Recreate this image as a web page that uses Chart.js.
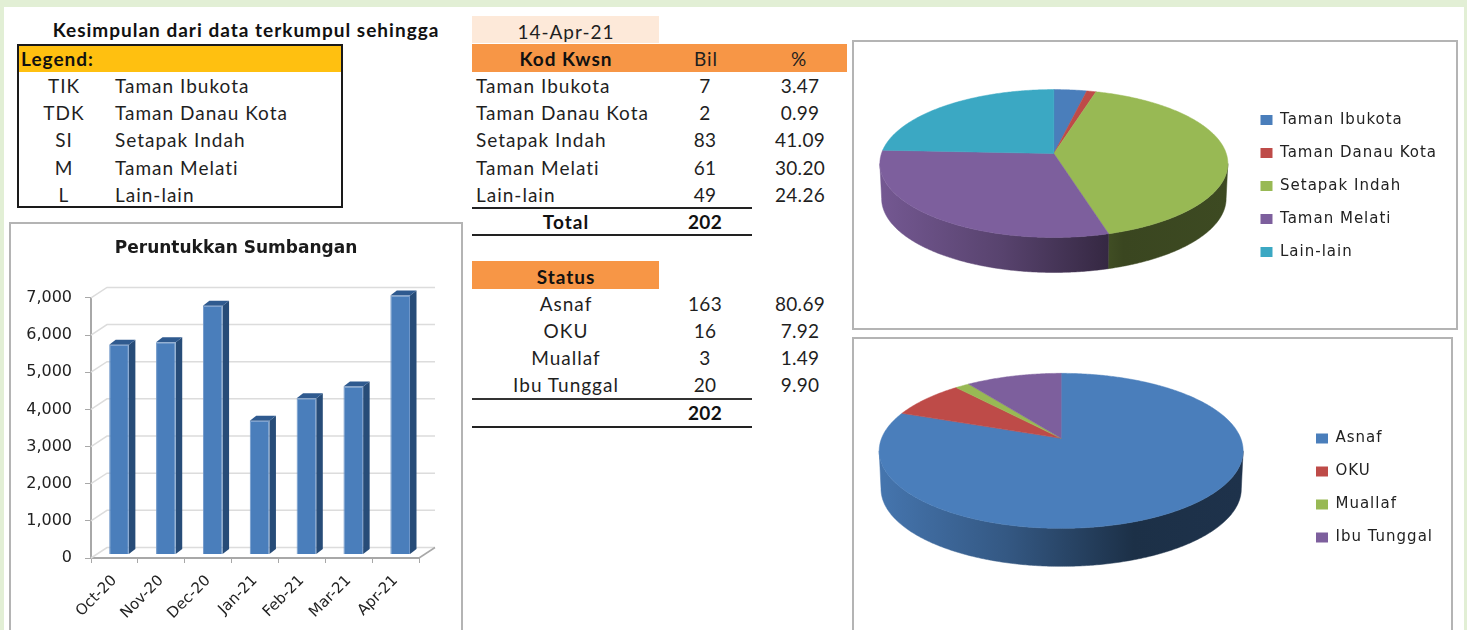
<!DOCTYPE html>
<html>
<head>
<meta charset="utf-8">
<title>Kesimpulan</title>
<script src="https://cdn.jsdelivr.net/npm/chart.js@4"></script>
<style>
html,body{margin:0;padding:0;width:1467px;height:630px;overflow:hidden;background:#e2efd5;}
#panel{position:absolute;left:4px;top:7px;width:1460px;height:623px;background:#fff;}
#stage{position:absolute;left:0;top:0;width:1467px;height:630px;overflow:hidden;}
.t{position:absolute;font-family:Lato,sans-serif;font-size:19px;line-height:24px;color:#1f1f1f;white-space:nowrap;letter-spacing:1px;}
.n{letter-spacing:.3px;}
.b{font-weight:700;color:#111;}
.rect{position:absolute;}
.frame{position:absolute;box-sizing:border-box;border:2px solid #b4b4b4;background:#fff;}
.frame canvas{position:absolute;left:0;top:0;}
</style>
</head>
<body>
<div id="panel"></div>
<div id="stage">
  <div class="frame" style="left:9px;top:222px;width:454px;height:420px"><canvas id="bars"></canvas></div>
  <div class="frame" style="left:852px;top:40px;width:606px;height:290px"><canvas id="pieArea"></canvas></div>
  <div class="frame" style="left:852px;top:337px;width:601px;height:298px"><canvas id="pieStatus"></canvas></div>
</div>
<script>
const months = ['Oct-20','Nov-20','Dec-20','Jan-21','Feb-21','Mar-21','Apr-21'];
const sumbangan = [5645,5715,6700,3600,4210,4525,6970];
const yTicks = [0,1000,2000,3000,4000,5000,6000,7000];
const legendCodes = ['TIK','TDK','SI','M','L'];
const kawasan = ['Taman Ibukota','Taman Danau Kota','Setapak Indah','Taman Melati','Lain-lain'];
const kawasanBil = [7,2,83,61,49];
const kawasanPct = ['3.47','0.99','41.09','30.20','24.26'];
const statusNames = ['Asnaf','OKU','Muallaf','Ibu Tunggal'];
const statusBil = [163,16,3,20];
const statusPct = ['80.69','7.92','1.49','9.90'];
const totalBil = 202;
const areaColors = ['#4a7ebb','#be4b48','#98b954','#7d5f9d','#3ba8c3'];
const statusColors = ['#4a7ebb','#be4b48','#98b954','#7d5f9d'];
const LABEL_FONT = 'DejaVu Sans';

const stage = document.getElementById('stage');
function text(s,x,y,align,bold,num){
  const e=document.createElement('div');
  e.className='t'+(bold?' b':'')+(num?' n':'');
  e.textContent=s;
  e.style.top=(y-12)+'px';
  e.style.left=x+'px';
  if(align==='c')e.style.transform='translateX(-50%)';
  stage.appendChild(e);
}
function rect(x,y,w,h,c,extra){
  const e=document.createElement('div');
  e.className='rect';
  e.style.cssText+=`left:${x}px;top:${y}px;width:${w}px;height:${h}px;background:${c};${extra||''}`;
  stage.appendChild(e);
}
const rowYs=[86,113,140,168,195];
rect(17,44,326,164,'#fff','box-sizing:border-box;border:2px solid #1a1a1a');
rect(19,46,322,26,'#ffc010');
text('Kesimpulan dari data terkumpul sehingga',246,30,'c',true);
text('Legend:',21,59,'l',true);
legendCodes.forEach((c,i)=>{text(c,64,rowYs[i],'c');text(kawasan[i],115,rowYs[i],'l');});

rect(472,16,187,27,'#fde9d9');
text('14-Apr-21',566,32,'c');
rect(472,44,375,28,'#f79646');
text('Kod Kwsn',566,59,'c',true);
text('Bil',706,59,'c');
text('%',799,59,'c');
kawasan.forEach((k,i)=>{
  text(k,476,rowYs[i],'l');
  text(String(kawasanBil[i]),705,rowYs[i],'c',false,true);
  text(kawasanPct[i],800,rowYs[i],'c',false,true);
});
rect(472,207,280,2,'#222');
text('Total',566,222,'c',true);
text(String(totalBil),705,222,'c',true,true);
rect(472,234,280,2,'#222');
rect(472,261,187,28,'#f79646');
text('Status',566,277,'c',true);
const statusYs=[304,331,358,385];
statusNames.forEach((k,i)=>{
  text(k,566,statusYs[i],'c');
  text(String(statusBil[i]),705,statusYs[i],'c',false,true);
  text(statusPct[i],800,statusYs[i],'c',false,true);
});
rect(472,398,280,2,'#333');
text(String(totalBil),705,413,'c',true,true);
rect(472,426,280,2,'#222');

/* ---- 3D helpers ---- */
function shade(hex,k){
  const n=parseInt(hex.slice(1),16);
  return `rgb(${Math.round((n>>16&255)*k)},${Math.round((n>>8&255)*k)},${Math.round((n&255)*k)})`;
}
const pie3d={
  id:'pie3d',
  beforeLayout(chart,args,o){chart.ctx.letterSpacing=o.spacing;},
  beforeDraw(chart,args,o){chart.ctx.letterSpacing=o.spacing;},
  beforeDatasetsDraw(chart,args,o){
    const ctx=chart.ctx, meta=chart.getDatasetMeta(0), colors=chart.data.datasets[0].backgroundColor;
    const cx=chart.width*o.fx, cy=chart.height*o.fy, A=o.A, B=o.B, p=o.p, depth=o.depth;
    const P=a=>{const u=Math.cos(a),v=Math.sin(a),d=1-p*v;return [cx+A*u/d,cy+B*v/d];};
    const frontA=Math.asin(p), frontB=Math.PI-Math.asin(p);
    const left=cx-A*1.01, right=cx+A*1.01;
    const sampled=(s,e)=>{const n=Math.max(2,Math.ceil((e-s)/0.01));const r=[];for(let i=0;i<=n;i++)r.push(s+(e-s)*i/n);return r;};
    ctx.save();
    meta.data.forEach((arc,i)=>{
      const s=Math.max(arc.startAngle,frontA), e=Math.min(arc.endAngle,frontB);
      if(e<=s)return;
      const g=ctx.createLinearGradient(left,0,right,0);
      g.addColorStop(0,shade(colors[i],.93));
      g.addColorStop(.35,shade(colors[i],.7));
      g.addColorStop(.7,shade(colors[i],.38));
      g.addColorStop(1,shade(colors[i],.4));
      const pts=sampled(s,e).map(P);
      ctx.beginPath();
      pts.forEach((q,j)=>j?ctx.lineTo(q[0],q[1]):ctx.moveTo(q[0],q[1]));
      pts.slice().reverse().forEach(q=>ctx.lineTo(cx+(q[0]-cx)*.99,q[1]+depth));
      ctx.closePath();
      ctx.fillStyle=g;ctx.strokeStyle=g;ctx.lineWidth=.5;
      ctx.fill();ctx.stroke();
    });
    meta.data.forEach((arc,i)=>{
      const pts=sampled(arc.startAngle,arc.endAngle).map(P);
      ctx.beginPath();
      ctx.moveTo(cx,cy);
      pts.forEach(q=>ctx.lineTo(q[0],q[1]));
      ctx.closePath();
      ctx.fillStyle=colors[i];ctx.strokeStyle=colors[i];ctx.lineWidth=.5;
      ctx.fill();ctx.stroke();
    });
    ctx.restore();
    return false;
  }
};
const bar3d={
  id:'bar3d',
  beforeDatasetsDraw(chart,args,o){
    const ctx=chart.ctx,y=chart.scales.y,x=chart.scales.x,{dx,dy}=o;
    ctx.save();
    ctx.strokeStyle='#dcdcdc';ctx.lineWidth=1.5;
    y.ticks.forEach((t,i)=>{
      const py=y.getPixelForTick(i);
      ctx.beginPath();
      ctx.moveTo(x.left,py);ctx.lineTo(x.left+dx,py+dy);ctx.lineTo(x.right+dx,py+dy);
      ctx.stroke();
    });
    ctx.strokeStyle='#a8a8a8';
    ctx.beginPath();
    ctx.moveTo(x.right,y.bottom);ctx.lineTo(x.right+dx,y.bottom+dy);
    ctx.stroke();
    const ox=o.ox,oy=o.oy,sx=o.sx,sy=o.sy;
    chart.getDatasetMeta(0).data.forEach(b=>{
      const l=b.x-b.width/2+ox,r=b.x+b.width/2+ox,t=b.y+oy,bt=b.base+oy;
      ctx.fillStyle='#274c78';
      ctx.beginPath();ctx.moveTo(r,t);ctx.lineTo(r+sx,t+sy);ctx.lineTo(r+sx,bt+sy);ctx.lineTo(r,bt);ctx.closePath();ctx.fill();
      ctx.fillStyle='#2f5a8f';
      ctx.beginPath();ctx.moveTo(l,t);ctx.lineTo(l+sx,t+sy);ctx.lineTo(r+sx,t+sy);ctx.lineTo(r,t);ctx.closePath();ctx.fill();
    });
    ctx.translate(ox,oy);
  },
  afterDatasetsDraw(chart){chart.ctx.restore();}
};

Chart.defaults.animation=false;
Chart.defaults.responsive=false;
Chart.defaults.font.family=LABEL_FONT;

function sizeCanvas(id,w,h){const c=document.getElementById(id);c.width=w;c.height=h;c.style.width=w+'px';c.style.height=h+'px';return c;}

new Chart(sizeCanvas('bars',450,416),{
  type:'bar',
  plugins:[bar3d],
  data:{labels:months,datasets:[{data:sumbangan,backgroundColor:'#4a7ebb',borderColor:'#6f97c9',borderWidth:1,barPercentage:.42,categoryPercentage:1}]},
  options:{
    responsive:false,
    plugins:{
      legend:{display:false},tooltip:{enabled:false},
      title:{display:true,text:'Peruntukkan Sumbangan',color:'#1a1a1a',font:{family:LABEL_FONT,size:17,weight:'bold'},padding:{top:14,bottom:39.5}},
      bar3d:{dx:16,dy:-10.5,ox:4.6,oy:-3.4,sx:6.5,sy:-5}
    },
    scales:{
      x:{
        afterFit:s=>{s.height=82;},
        grid:{drawOnChartArea:false,offset:true,color:'#a8a8a8',tickLength:5,tickColor:'#a8a8a8'},
        border:{color:'#a8a8a8',width:2},
        ticks:{maxRotation:45,minRotation:45,color:'#222',font:{size:15},padding:9,autoSkip:false}
      },
      y:{
        min:0,max:7000,
        afterFit:s=>{s.width=80;},
        afterBuildTicks:s=>{s.ticks=yTicks.map(v=>({value:v}));},
        grid:{drawOnChartArea:false,color:'#a8a8a8',tickLength:6,tickColor:'#a8a8a8'},
        border:{color:'#a8a8a8',width:2},
        ticks:{color:'#222',font:{size:16},padding:13,callback:v=>v.toLocaleString('en-US')}
      },
      spacer:{
        type:'linear',position:'right',afterFit:s=>{s.width=42;},
        ticks:{display:false},grid:{display:false},border:{display:false}
      }
    }
  }
});

function pie(id,w,h,labels,values,colors,geom,pad,padTop,spacing){
  return new Chart(sizeCanvas(id,w,h),{
    type:'pie',
    plugins:[pie3d],
    data:{labels,datasets:[{data:values,backgroundColor:colors,borderWidth:0}]},
    options:{
      responsive:false,
      layout:{padding:{right:pad,top:padTop}},
      plugins:{
        tooltip:{enabled:false},
        pie3d:geom,
        legend:{position:'right',labels:{boxWidth:12,boxHeight:10,padding:spacing,color:'#222',font:{family:LABEL_FONT,size:15}}}
      }
    }
  });
}
pie('pieArea',602,286,kawasan,kawasanBil,areaColors,{fx:.332,fy:.39,A:172.4,B:72.6,p:.135,depth:35,spacing:'1px'},9,2,18);
pie('pieStatus',597,294,statusNames,statusBil,statusColors,{fx:.347,fy:.338,A:179.6,B:75.5,p:.161,depth:38,spacing:'1px'},8,4,18);
</script>
</body>
</html>
